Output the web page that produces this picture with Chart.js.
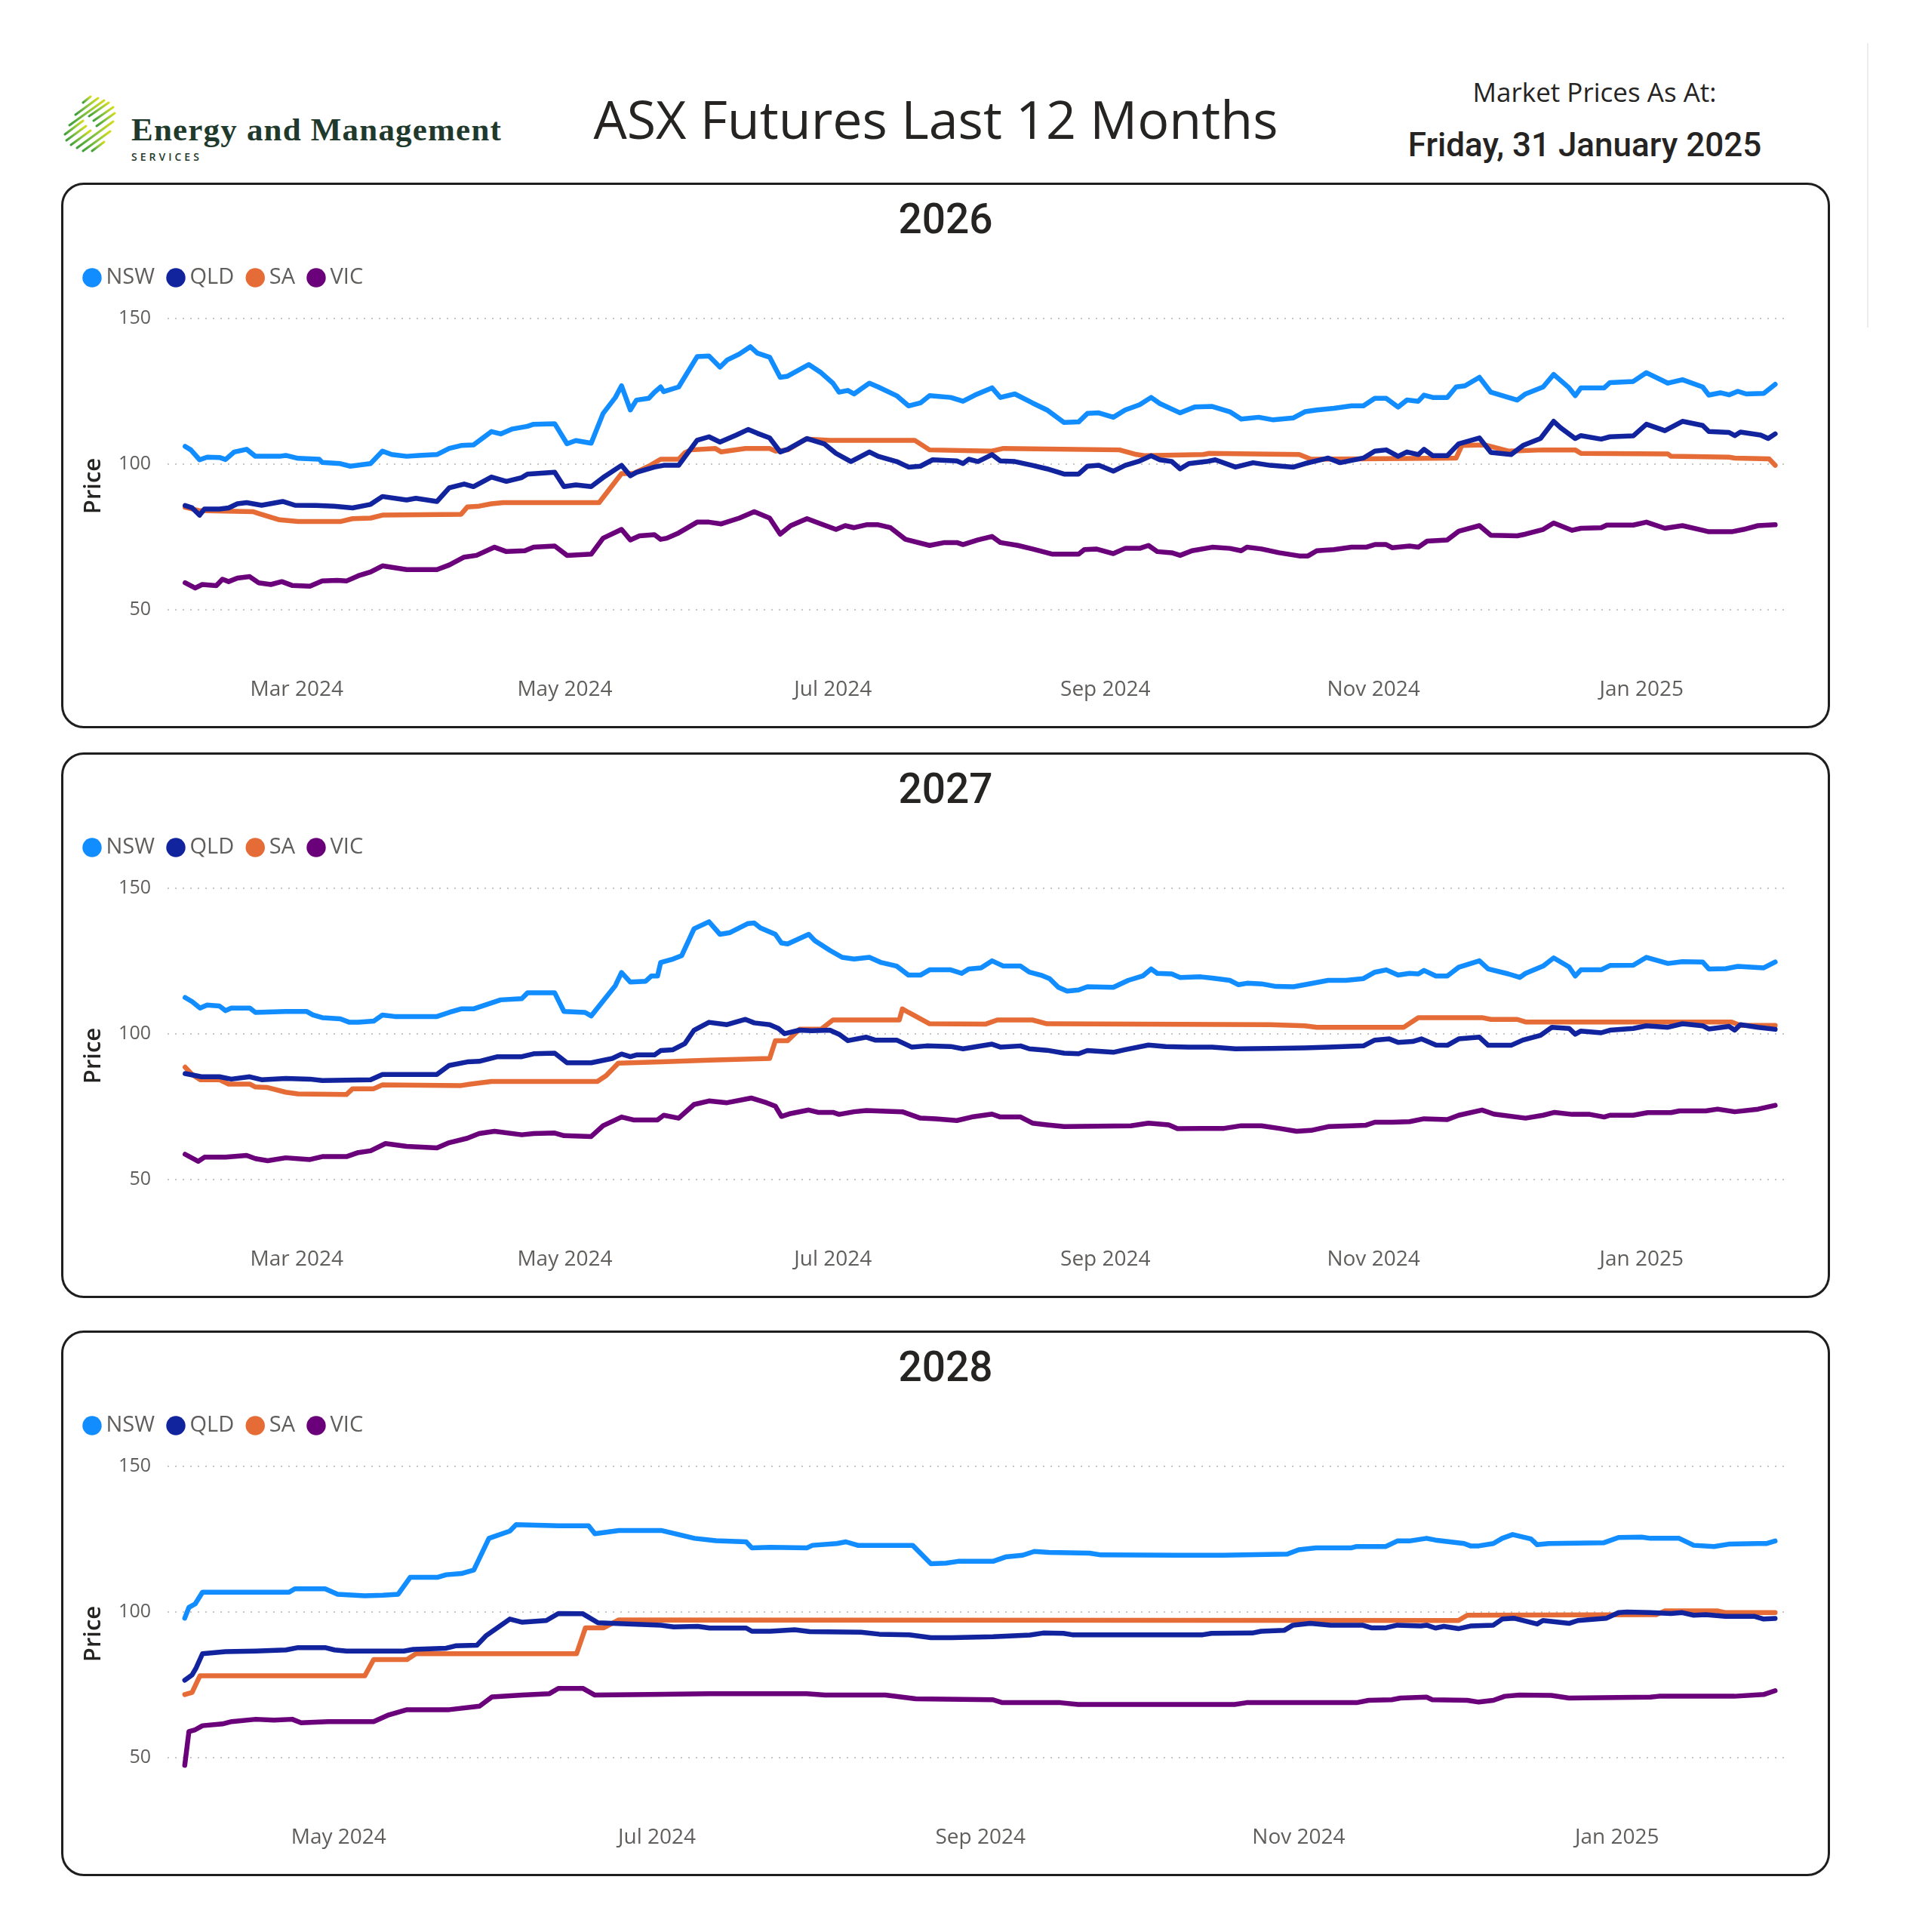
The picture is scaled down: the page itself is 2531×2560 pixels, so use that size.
<!DOCTYPE html>
<html>
<head>
<meta charset="utf-8">
<script src="https://cdn.jsdelivr.net/npm/chart.js@4.4.1/dist/chart.umd.min.js"></script>
<style>
html,body{margin:0;padding:0;background:#ffffff;}
body{width:2531px;height:2560px;position:relative;overflow:hidden;font-family:'Open Sans',sans-serif;}
.panel{position:absolute;left:81px;width:2344px;height:723px;box-sizing:border-box;border:3px solid #1e1e1e;border-radius:30px;background:#fff;overflow:hidden;}
.panel canvas{position:absolute;left:0;top:0;}
.hdr{position:absolute;white-space:nowrap;text-align:center;color:#252423;}
</style>
</head>
<body>

<svg style="position:absolute;left:80px;top:124px;" width="640" height="100" viewBox="0 0 640 100">
  <defs>
    <linearGradient id="lg" x1="0" y1="1" x2="1" y2="0">
      <stop offset="0" stop-color="#3e9f3a"/>
      <stop offset="0.55" stop-color="#8cc63f"/>
      <stop offset="1" stop-color="#d4dc1a"/>
    </linearGradient>
  </defs>
  <g stroke="url(#lg)" stroke-width="3" stroke-linecap="round">
    <line x1="30" y1="12" x2="40" y2="4"/>
    <line x1="20" y1="28" x2="50" y2="6"/>
    <line x1="12" y1="42" x2="58" y2="9"/>
    <line x1="6" y1="54" x2="30" y2="36"/><line x1="38" y1="30" x2="64" y2="12"/>
    <line x1="8" y1="62" x2="34" y2="43"/><line x1="44" y1="36" x2="70" y2="18"/>
    <line x1="14" y1="68" x2="40" y2="49"/><line x1="48" y1="43" x2="72" y2="26"/>
    <line x1="22" y1="72" x2="70" y2="37"/>
    <line x1="30" y1="76" x2="66" y2="50"/>
    <line x1="42" y1="76" x2="58" y2="64"/>
  </g>
  <text x="94" y="62" font-family="'Liberation Serif','DejaVu Serif',serif" font-weight="bold" font-size="43" letter-spacing="1.2" fill="#1f3a2c">Energy and Management</text>
  <text x="94" y="89" font-family="'Open Sans',sans-serif" font-weight="600" font-size="14" letter-spacing="4" fill="#1f3a2c">SERVICES</text>
</svg>

<div class="hdr" style="left:640px;width:1200px;top:122px;font-family:'Open Sans';font-size:70px;line-height:70px;">ASX Futures Last 12 Months</div>
<div class="hdr" style="left:1813px;width:600px;top:104px;font-family:'Open Sans';font-size:35px;line-height:35px;">Market Prices As At:</div>
<div class="hdr" style="left:1800px;width:600px;top:170px;font-family:'Roboto';font-weight:500;font-size:44px;line-height:44px;">Friday, 31 January 2025</div>
<div style="position:absolute;left:2474px;top:57px;width:2px;height:377px;background:#ececec;"></div>

<div class="panel" style="top:242px;"><canvas id="c2026" width="2338" height="717"></canvas></div>
<div class="panel" style="top:997px;"><canvas id="c2027" width="2338" height="717"></canvas></div>
<div class="panel" style="top:1763px;"><canvas id="c2028" width="2338" height="717"></canvas></div>

<script>
// x values: days since 1 Feb 2024 ; y values: price ($/MWh)
const SERIES_NAMES = ['NSW','QLD','SA','VIC'];
const SERIES_COLORS = ['#118DFF','#12239E','#E66C37','#6B007B'];
const Y_TICKS = [50,100,150];
const MONTH_TICK_DAYS_12M = [29,90,151,213,274,335];
const MONTH_TICK_LABELS_12M = ['Mar 2024','May 2024','Jul 2024','Sep 2024','Nov 2024','Jan 2025'];
const MONTH_TICK_DAYS_2028 = [90,151,213,274,335];
const MONTH_TICK_LABELS_2028 = ['May 2024','Jul 2024','Sep 2024','Nov 2024','Jan 2025'];

const NSW_2026 = [[3.6,106.1],[4.9,104.9],[6.9,101.5],[8.6,102.4],[11.4,102.3],[12.8,101.6],[14.8,104.2],[17.6,105.1],[19.6,102.7],[25.1,102.7],[26.5,103],[29.3,102],[34.1,101.7],[34.8,100.6],[38.9,100.2],[41.2,99.3],[45.8,100.2],[48.5,104.5],[50.6,103.3],[54,102.7],[56.8,103],[60.9,103.3],[63.7,105.4],[66.4,106.4],[69.2,106.6],[73.3,111.2],[75.4,110.4],[78.1,112.1],[81.5,113],[82.9,113.7],[87.7,113.9],[90.5,107],[92.5,108.1],[96,107.2],[98.7,117.4],[101.5,122.9],[102.9,126.9],[104.9,118.6],[106.3,122],[109.1,122.6],[110.4,124.7],[111.8,126.5],[112.5,124.9],[115.9,126.5],[120.1,136.9],[122.8,137.1],[125.3,133.3],[126.9,135.7],[129.7,137.8],[132.2,140.3],[133.8,138.1],[136.6,136.7],[139,129.8],[140.7,130.2],[145.5,134.2],[148.3,131.4],[151,127.8],[152.4,124.7],[154.4,125.3],[155.8,124.1],[159.3,127.8],[161.3,126.5],[165.5,123.5],[168.2,120],[170.9,121],[173,123.5],[177.8,122.9],[180.6,121.6],[183.3,123.7],[187.2,126.2],[189.1,122.9],[192.4,124.1],[196.4,121],[199.7,118.6],[203.6,114.3],[206.9,114.5],[208.9,117.4],[211.5,117.6],[214.8,116.1],[217.5,118.6],[220.8,120.4],[223.4,122.9],[225.4,120.8],[230,117.6],[233.3,119.6],[237.3,119.8],[241.3,118],[243.9,115.5],[247.9,116.1],[251.2,115.2],[255.8,115.9],[258.4,118],[261.1,118.6],[265,119.2],[269,120],[271.7,120],[274.3,122.6],[276.9,122.6],[279.6,119.6],[281.6,122],[284.2,121.6],[285.5,123.7],[287.5,122.9],[290.8,122.9],[292.8,126.5],[294.8,126.9],[298.1,129.8],[300.7,124.7],[306.7,122],[308.6,124.1],[312.6,126.5],[315,130.8],[318.5,126.2],[319.9,123.5],[321.2,126.2],[326.5,126.2],[327.8,128],[333.1,128.4],[336.1,131.4],[341,127.8],[344.3,129],[348.9,126.5],[350.3,123.7],[352.9,124.5],[354.9,123.8],[356.9,125],[358.8,124.1],[362.8,124.3],[365.4,127.4]];
const QLD_2026 = [[3.6,85.8],[5.2,85],[6.9,82.5],[8,84.6],[11.4,84.6],[13.5,85],[15.5,86.4],[17.6,86.8],[21,85.9],[25.8,87.2],[28.6,85.9],[33.4,85.8],[37.5,85.6],[41.7,85],[45.8,86.2],[48.5,88.9],[54,87.7],[56.1,88.3],[60.9,87.2],[63.7,91.9],[67.1,93.2],[69.2,92.3],[73.3,95.6],[76.7,94.1],[80.2,95.4],[81.5,96.6],[87.7,97.2],[89.8,92.3],[92.5,92.9],[96,92.3],[98.7,95.4],[102.9,99.6],[104.9,96],[106.3,97.2],[110.4,99],[112.5,99.6],[115.9,99.6],[120.1,108.2],[122.8,109.4],[125.3,107.6],[129,110],[131.7,111.9],[133.8,110.6],[136.6,109],[139,104.2],[140.7,105.1],[145.1,108.8],[149,107],[151.7,103.7],[155.1,100.9],[159.3,104.2],[161.3,102.7],[165.5,100.9],[168.2,99],[170.9,99.3],[173.7,101.5],[179.2,101.1],[180.6,100.2],[181.9,101.7],[184,100.9],[187.2,103.3],[189.1,101.1],[192.4,100.9],[196.4,99.6],[199.7,98.4],[203.6,96.6],[206.9,96.6],[208.9,99.3],[211.5,99.6],[214.8,97.6],[217.5,99.6],[220.8,101.1],[223.4,102.9],[225.4,101.5],[228.1,100.9],[230,98.4],[232,100.2],[236,100.9],[238,101.5],[242.6,99],[246.6,100.5],[250.5,99.6],[255.8,99],[258.4,100.2],[263.7,102.1],[266.4,100.5],[271.7,102.1],[274.3,104.5],[276.9,104.9],[279.6,102.7],[281.6,104.2],[284.2,103.3],[285.5,105.1],[287.5,102.9],[290.8,102.9],[293.4,107],[298.1,109],[300.7,104],[305.3,103.3],[308,106.4],[312,108.8],[315,114.7],[316.6,112.5],[319.9,108.8],[321.2,109.8],[325.8,108.6],[327.8,109.4],[333.1,109.7],[336.1,113.7],[340.3,111.5],[344.3,114.7],[348.9,113.3],[350.3,111.2],[354.9,110.9],[356.2,109.8],[357.5,111],[362.1,110],[363.8,108.8],[365.4,110.4]];
const SA_2026 = [[3.6,85.2],[6.6,84.1],[19,83.7],[20.3,83.1],[25.1,80.9],[29.3,80.3],[38.9,80.3],[41.7,81.3],[45.8,81.5],[48.5,82.5],[66.4,82.8],[67.8,85.3],[70.5,85.6],[73.3,86.4],[76,86.8],[97.8,86.8],[102.9,96.8],[105.6,96.8],[109.1,99.3],[111.8,101.7],[115.9,101.7],[117.3,103.9],[118.7,104.9],[124.2,105.4],[125.6,104.2],[131.1,105.4],[136.6,105.4],[137.9,104.5],[140.7,104.9],[144.8,108.6],[150.3,108.2],[169.6,108.2],[173,104.9],[187.2,104.5],[189.8,105.4],[216.2,104.9],[220.1,103.3],[222.1,102.9],[235.3,103.3],[236.6,103.7],[257.1,103.3],[259.8,101.7],[292.8,102.1],[294.1,106.4],[299.4,106.6],[304.7,104.5],[312.6,104.9],[319.9,104.9],[321.2,103.7],[341,103.5],[341.7,102.7],[354.9,102.4],[356.2,102.1],[364,101.8],[365.4,99.6]];
const VIC_2026 = [[3.6,59.3],[5.9,57.5],[7.5,58.7],[10.7,58.3],[12.1,60.5],[13.5,59.7],[15.5,60.9],[18.3,61.4],[20.3,59.3],[23.1,58.7],[25.6,59.7],[27.9,58.4],[32,58.1],[34.8,59.9],[38.2,60.1],[40.3,59.9],[43,61.7],[45.8,63],[48.5,65.1],[54,63.8],[60.9,63.8],[63.7,65.4],[67.1,68.1],[69.9,68.7],[74,71.5],[76.7,70],[80.9,70.3],[82.9,71.5],[87.7,71.9],[90.5,68.7],[96,69.1],[98.7,74.6],[102.9,77.6],[104.9,74],[107,75.4],[110.4,75.8],[111.8,74.2],[113.2,74.6],[115.9,76.4],[120.1,80.1],[122.8,80.1],[125.6,79.5],[129.7,81.5],[133.1,83.7],[136.6,81.5],[139,76],[141.4,78.9],[145.1,81.3],[148.3,79.5],[151.7,77.6],[153.8,78.9],[155.8,78.2],[158.6,79.2],[161.3,79.2],[164.1,78.2],[167.5,74.2],[173,72.1],[176.4,73.1],[179.2,73.1],[180.6,72.4],[184,74],[187.2,75.2],[189.1,73.1],[193.1,72.1],[196.4,70.9],[201,69.1],[206.9,69.1],[208.2,70.7],[210.9,70.9],[214.8,69.3],[217.5,71.1],[220.8,71.1],[222.8,72.1],[224.8,70],[228.1,69.6],[230,68.7],[232.7,70.3],[237.3,71.5],[241.3,71.1],[243.9,70.3],[245.2,71.5],[248.5,70.9],[252.5,69.6],[257.1,68.5],[259.1,68.5],[261.1,70.3],[265,70.7],[269,71.5],[272.3,71.5],[274.3,72.4],[276.9,72.4],[278.3,71.3],[282.2,71.9],[284.2,71.5],[286.2,73.6],[290.8,74],[293.4,77],[298.1,78.9],[300.7,75.6],[306.7,75.4],[308.6,76],[312.6,77.6],[315,79.8],[319.2,77.3],[321.2,78],[325.8,78.2],[327.1,79.1],[333.1,79.1],[336.1,80.1],[340.3,78],[344.3,78.9],[348.9,77.3],[350.3,76.8],[355.5,76.8],[358.2,77.6],[361.5,78.9],[365.4,79.2]];

const NSW_2027 = [[3.6,112.5],[5.2,111.1],[7,108.9],[8.6,109.9],[11.4,109.6],[12.8,108],[14.1,108.9],[18.3,108.9],[19.6,107.4],[26.5,107.7],[31.3,107.7],[32.7,106.5],[34.8,105.6],[38.9,105.2],[41,104],[43,104],[46.5,104.4],[48.5,106.5],[51.3,106],[60.9,106],[63.7,107.4],[66.4,108.6],[69.2,108.6],[75.4,111.7],[80.2,112.1],[81.5,114.1],[87.7,114.1],[89.8,107.7],[94.6,107.4],[96,106.2],[101.5,116.6],[102.9,121.1],[104.9,117.8],[108.4,118.1],[109.7,119.9],[111.1,119.9],[111.8,124.5],[114.6,125.7],[116.6,126.9],[119.4,136.1],[122.8,138.5],[125.3,134.2],[127.6,134.8],[131.7,137.9],[133.1,138.1],[134.5,136.4],[137.9,134.2],[139.3,131.2],[140.7,130.9],[145.5,134.2],[146.9,132],[150.3,128.7],[153.1,126.3],[155.8,125.7],[159.3,126.3],[162,124.5],[165.5,123.3],[168.2,120.2],[170.9,120.2],[173,122],[177.8,122],[180.3,120.8],[181.9,122.3],[184.7,122.7],[187.2,125.1],[189.8,123.3],[193.7,123.3],[195.7,121.2],[198.3,120.2],[200.3,119],[202.3,116],[204.3,114.7],[206.9,115.1],[208.9,116.2],[214.8,116],[218.2,118.4],[221.5,119.9],[223.4,122.3],[224.8,120.8],[228.1,120.6],[230,119.4],[234.7,119.6],[237.3,119.2],[241.3,118.4],[243.3,116.9],[245.2,117.4],[248.5,117.2],[251.8,116.3],[255.8,116.2],[258.4,116.9],[263.7,118.4],[267.7,118.4],[271.7,119],[274.3,121.2],[276.9,122],[279.6,120.2],[282.2,120.8],[284.2,120.6],[285.5,121.8],[288.2,119.9],[290.8,119.9],[293.4,122.9],[298.1,125.1],[300.1,122.3],[304.7,120.6],[307.3,119.4],[308.6,120.8],[312.6,123.3],[315,126.1],[318.5,123],[319.9,119.9],[321.2,122],[325.8,122],[327.8,123.5],[333.1,123.6],[336.1,126.3],[341,124.2],[344.3,124.8],[348.9,124.7],[350.3,122.3],[354.2,122.4],[356.9,123.2],[362.8,122.7],[365.4,124.7]];
const QLD_2027 = [[3.6,86.4],[7.3,85.3],[11.4,85.3],[14.1,84.5],[18.3,85.3],[21,84.3],[26.5,84.7],[32,84.5],[34.8,84],[45.8,84.3],[48.5,86.1],[60.9,86.1],[63.7,89.2],[67.8,90.4],[70.5,90.6],[74.7,92.2],[80.2,92.2],[82.9,93.2],[87.7,93.4],[90.5,90.1],[96,90.1],[100.8,91.6],[102.9,93.1],[104.9,92.2],[106.3,92.8],[110.4,92.8],[111.8,94.3],[114.6,94.6],[117.3,96.7],[119.4,101.3],[122.8,104],[126.9,103.2],[131.1,105],[133.1,103.8],[136.6,103.2],[138.6,101.9],[140,100.1],[143.4,101.3],[146.2,101.1],[150.3,101.3],[152.4,99.9],[154.4,97.7],[158.6,98.9],[160.6,97.9],[165.5,97.9],[168.9,95.5],[172.3,95.9],[177.8,95.7],[180.6,94.9],[187.2,96.5],[189.1,95.5],[193.7,95.9],[195.7,94.9],[199.7,94.4],[203.6,93.4],[206.9,93.2],[208.9,94.3],[214.8,93.7],[217.5,94.6],[222.8,96.2],[226.7,95.7],[232,95.5],[237.3,95.5],[242.6,94.9],[250.5,95],[258.4,95.2],[263.7,95.5],[271.7,95.9],[274.3,97.9],[277.6,98.3],[279.6,97.1],[282.9,97.4],[284.9,98.3],[288.2,96.2],[290.8,96.1],[293.4,98.3],[298.1,98.9],[300.1,96.1],[305.3,96.1],[308,97.9],[312,99.5],[314.6,102.3],[318.5,101.9],[319.9,99.9],[321.2,101],[325.8,100.4],[327.8,101.3],[333.1,101.9],[336.1,102.8],[341,102.3],[344.3,103.5],[348.9,102.8],[350.3,101.7],[354.9,102.6],[356.2,101.3],[357.5,103.2],[361.5,102.3],[365.4,101.6]];
const SA_2027 = [[3.6,88.6],[5.2,86.1],[7,84.3],[11.4,84.3],[13.5,82.8],[18.3,82.8],[19.6,81.8],[22.4,81.6],[26.5,80],[29.3,79.4],[40.3,79.2],[41.7,81.2],[46.5,81.2],[48.5,82.5],[66.4,82.3],[68.5,82.8],[73.3,83.7],[97.4,83.7],[99.4,85.7],[102.2,90],[111.8,90.4],[122.8,91],[136.6,91.6],[137.9,97.7],[140.7,97.7],[143.4,101.6],[148.3,101.6],[151,104.8],[166.1,104.8],[166.8,108.6],[168.2,107.4],[173,103.5],[185.8,103.4],[188.4,104.8],[196.4,104.8],[199.7,103.5],[250.5,103.2],[258.4,102.8],[261.1,102.3],[280.9,102.3],[284.2,105.6],[298.7,105.6],[300.7,105],[306.7,105],[308.6,104.1],[355.5,104.1],[357.5,102.9],[365.4,102.9]];
const VIC_2027 = [[3.6,58.7],[6.6,56.3],[8,57.7],[12.8,57.7],[17.6,58.3],[19.6,57.2],[22.4,56.5],[26.5,57.5],[32,56.9],[34.8,57.9],[40.3,57.9],[43,59.3],[45.8,59.9],[49.2,62.4],[54,61.4],[60.9,60.9],[63.7,62.7],[67.8,64.2],[70.5,65.8],[74,66.6],[80.2,65.4],[82.9,65.8],[87.7,66],[89.8,65.1],[96,64.8],[98.7,68.5],[102.9,71.5],[105.6,70.5],[111.1,70.5],[112.5,72.1],[115.9,71.1],[119.4,75.8],[122.8,77],[126.9,76.4],[132.4,78],[135.9,76.4],[137.9,75.2],[139.3,71.7],[141.4,72.7],[145.5,73.9],[147.6,73.1],[151,73.1],[152.4,72.4],[155.8,73.3],[158.6,73.7],[166.8,73.3],[170.9,71.1],[174.4,70.9],[179.2,70.3],[182.6,71.5],[187.2,72.5],[189.1,71.5],[193.7,71.5],[196.4,69.4],[199.7,68.8],[203.6,68.2],[218.8,68.5],[222.8,69.4],[227.4,68.8],[229.4,67.5],[234.7,67.6],[240,67.6],[243.9,68.5],[248.5,68.5],[252.5,67.6],[256.5,66.6],[259.8,66.9],[263.7,68.2],[269,68.5],[272.3,68.7],[274.3,69.7],[278.3,69.7],[282.2,69.9],[285.5,70.9],[290.8,70.6],[293.4,72.1],[298.7,73.9],[301.4,72.5],[308.6,71.1],[312.6,72.1],[315.2,73.1],[319.2,72.4],[323.2,72.4],[326.5,71.5],[327.8,72.1],[333.1,72.1],[336.4,73],[341.7,73],[343.6,73.6],[349.6,73.6],[352.3,74.2],[356.2,73.3],[361.5,74.2],[365.4,75.5]];

const NSW_2028 = [[60.5,97.9],[61.3,101.6],[62.5,102.8],[63.9,106.8],[80.5,106.8],[81.6,108],[87.4,108],[89.8,106.1],[95,105.6],[98.5,105.8],[101.4,106.1],[103.7,111.9],[108.9,111.9],[110.6,112.8],[113.5,113.2],[115.9,114.4],[118.8,125.3],[122.8,127.8],[124,130],[132.1,129.6],[137.9,129.6],[139.1,126.9],[143.7,128],[151.8,128],[154.7,126.8],[158.2,125.3],[162.3,124.5],[168.1,124.1],[169.2,122],[172.7,122.2],[179.7,122],[180.8,122.9],[185.5,123.5],[187.2,124.1],[189.5,122.9],[200,122.9],[203.5,116.6],[206.4,116.8],[208.7,117.4],[215.4,117.4],[217.8,118.9],[221.1,119.5],[223.3,120.8],[226.1,120.5],[233.9,120.2],[236.1,119.6],[250.6,119.5],[259.5,119.5],[271.8,119.9],[274,121.4],[277.3,122],[284,122],[285.1,122.5],[290.7,122.5],[292.9,124.4],[295.2,124.4],[298.5,125.3],[300.2,124.7],[305.7,123.5],[306.9,122.7],[308.5,122.7],[311.3,123.5],[313,125.3],[315,126.6],[318.5,125.1],[319.7,123.1],[321.9,123.5],[332.5,123.8],[335.3,125.6],[339.7,125.7],[341.4,125.3],[346.9,125.3],[349.7,122.9],[353.6,122.5],[356.4,123.3],[362,123.5],[363.6,123.5],[365.3,124.4]];
const QLD_2028 = [[60.5,76.6],[61.9,78.4],[62.7,80.9],[63.9,85.7],[68.3,86.4],[74.1,86.6],[79.9,87],[82.2,87.8],[87.4,87.8],[89.2,87],[91.5,86.6],[102.5,86.6],[104.3,87.2],[110.6,87.6],[112.4,88.4],[116.5,88.6],[118.2,91.8],[122.8,97.6],[125.2,96.5],[129.8,97.1],[132.1,99.5],[136.8,99.4],[139.7,96.3],[151.8,95.5],[154.2,94.9],[158.8,95.1],[161.1,94.5],[168.1,94.5],[169.2,93.4],[172.7,93.4],[177.4,93.9],[180.3,93.3],[190.1,93.1],[193.6,92.4],[199.4,92.2],[203.5,91.2],[207.5,91.2],[215.4,91.5],[222.5,92.1],[225,92.8],[228.9,92.7],[230.6,92.2],[255.6,92.2],[257.3,92.7],[265.1,92.8],[266.8,93.4],[271.2,93.7],[272.9,95.5],[276.2,96.1],[280.1,95.5],[286.2,95.5],[287.9,94.6],[290.7,94.6],[292.9,95.5],[297.4,95.2],[298.5,95.5],[300.2,94.5],[301.8,95.1],[304.6,94.3],[306.9,95.2],[311.3,95.5],[313,97.6],[315.2,97.9],[319.7,95.9],[320.8,97.1],[325.8,96.1],[327.5,97.1],[333,97.9],[335.3,99.8],[336.9,100],[341.4,99.8],[345.3,99.5],[347.5,99.8],[349.7,98.9],[352,99.1],[355.8,98.5],[361.4,98.5],[363.1,97.6],[365.3,97.8]];
const SA_2028 = [[60.5,71.7],[61.9,72.4],[63.4,78.1],[95,78.1],[96.7,83.7],[103.1,83.7],[104.8,85.7],[135.6,85.7],[137.3,94.6],[140.8,94.6],[143.7,97.3],[304.6,97.1],[306.3,98.9],[342.5,99.1],[344.2,100.4],[354.2,100.4],[355.8,99.8],[365.3,99.8]];
const VIC_2028 = [[60.5,47.4],[61.3,59],[62.5,59.6],[63.9,61],[67.7,61.6],[69.5,62.4],[74.1,63.2],[77.6,62.9],[81.1,63.2],[82.8,62],[88,62.4],[96.7,62.4],[99.6,64.7],[103.1,66.5],[111.2,66.5],[117,67.7],[119.4,70.9],[125.2,71.5],[130.4,72],[132.1,73.8],[136.8,73.8],[139.1,71.5],[149.5,71.7],[161.1,72],[179.7,72],[183.2,71.5],[194.8,71.5],[200.6,70.2],[215.4,69.9],[217.2,68.9],[228.3,68.9],[231.7,68.3],[261.7,68.3],[264,68.9],[285.1,68.9],[287.4,69.7],[291.8,69.9],[293.5,70.5],[298.5,70.8],[299.6,69.9],[306.3,69.7],[308.5,69.1],[311.3,69.7],[313.5,71.1],[316.3,71.5],[322.4,71.4],[325.8,70.5],[341.4,70.8],[343,71.1],[357.5,71.1],[363.1,71.7],[365.3,73]];

const CANVAS_H = 717;
const PLOT_BOTTOM = 621;

const legendHeightPlugin = {
  id: 'legendHeight',
  beforeLayout(chart) {
    const lg = chart.legend;
    if (lg && !lg._patched) {
      const orig = lg.fit;
      lg.fit = function () { orig.call(this); this.height = chart.options.plugins.legendHeight.h; };
      lg._patched = true;
    }
  }
};

function makeChart(id, year, seriesData, xMin, xMax, tickDays, tickLabels) {
  const datasets = seriesData.map((d, i) => ({
    label: SERIES_NAMES[i],
    data: d.map(p => ({ x: p[0], y: p[1] })),
    borderColor: SERIES_COLORS[i],
    backgroundColor: SERIES_COLORS[i],
    borderWidth: 6.5,
    pointRadius: 0,
    tension: 0,
    borderJoinStyle: 'round',
    borderCapStyle: 'round'
  }));
  return new Chart(document.getElementById(id), {
    type: 'line',
    data: { datasets },
    plugins: [legendHeightPlugin],
    options: {
      responsive: false,
      animation: false,
      devicePixelRatio: 1,
      layout: { padding: { left: 10, right: 10, top: 0, bottom: 0 } },
      plugins: {
        legendHeight: { h: 92.5 },
        title: {
          display: true, text: year, color: '#252423',
          font: { family: 'Roboto', size: 55, weight: '500', lineHeight: 1.2 },
          padding: { top: 17.5, bottom: 1 }
        },
        legend: {
          display: true, align: 'start',
          labels: {
            usePointStyle: true, pointStyle: 'circle', boxWidth: 8, boxHeight: 18, padding: 24,
            color: '#605E5C', font: { family: 'Open Sans', size: 29 },
            generateLabels: (c) => Chart.defaults.plugins.legend.labels.generateLabels(c).map(l => Object.assign(l, { lineWidth: 0 }))
          }
        },
        tooltip: { enabled: false }
      },
      scales: {
        x: {
          type: 'linear', min: xMin, max: xMax,
          grid: { display: false, drawTicks: false },
          border: { display: false },
          afterBuildTicks: (sc) => { sc.ticks = tickDays.map(v => ({ value: v })); },
          afterFit: (sc) => { sc.height = CANVAS_H - PLOT_BOTTOM; },
          ticks: {
            padding: 31, color: '#605E5C', maxRotation: 0, autoSkip: false,
            font: { family: 'Open Sans', size: 28 },
            callback: (v, i) => tickLabels[i]
          }
        },
        y: {
          min: 35, max: 150,
          afterBuildTicks: (sc) => { sc.ticks = Y_TICKS.map(v => ({ value: v })); },
          afterFit: (sc) => { sc.width = 128; },
          grid: { color: '#C8C6C4', lineWidth: 2, drawTicks: false },
          border: { display: false, dash: [2, 8] },
          ticks: { padding: 22, color: '#605E5C', font: { family: 'Open Sans', size: 25 } },
          title: {
            display: true, text: 'Price', color: '#252423',
            font: { family: 'Open Sans', size: 31, weight: '600' },
            padding: { top: 12, bottom: 0 }
          }
        },
        yRightSpace: {
          position: 'right', min: 0, max: 1,
          grid: { display: false, drawTicks: false },
          border: { display: false },
          ticks: { display: false },
          afterFit: (sc) => { sc.width = 48; }
        }
      }
    }
  });
}

makeChart('c2026', '2026', [NSW_2026, QLD_2026, SA_2026, VIC_2026], -0.4, 367.4, MONTH_TICK_DAYS_12M, MONTH_TICK_LABELS_12M);
makeChart('c2027', '2027', [NSW_2027, QLD_2027, SA_2027, VIC_2027], -0.4, 367.4, MONTH_TICK_DAYS_12M, MONTH_TICK_LABELS_12M);
makeChart('c2028', '2028', [NSW_2028, QLD_2028, SA_2028, VIC_2028], 57.2, 367, MONTH_TICK_DAYS_2028, MONTH_TICK_LABELS_2028);
</script>
</body>
</html>
